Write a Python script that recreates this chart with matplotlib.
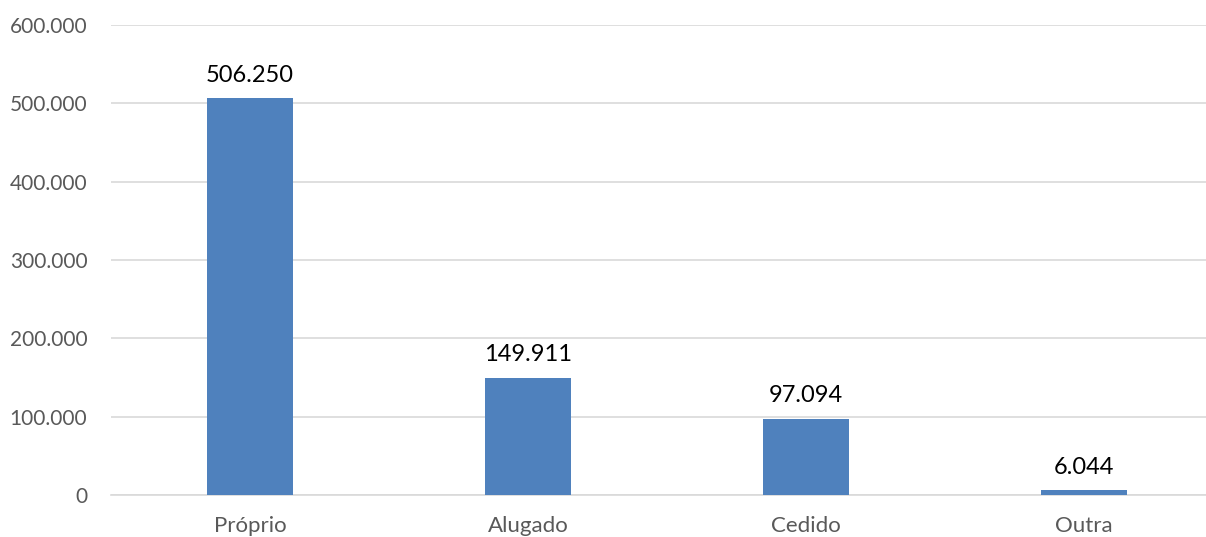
import matplotlib.pyplot as plt
from matplotlib.ticker import FuncFormatter

# data
categories = ["Próprio", "Alugado", "Cedido", "Outra"]
values = [506250, 149911, 97094, 6044]
value_labels = ["506.250", "149.911", "97.094", "6.044"]

W, H = 1206, 537
fig = plt.figure(figsize=(W / 100, H / 100), dpi=100)
# axes placed in pixel terms (right edge runs slightly past the figure, as in the source)
left, right, bottom, top = 111, 1223, 537 - 495, 537 - 25
ax = fig.add_axes([left / W, bottom / H, (right - left) / W, (top - bottom) / H])

plt.rcParams['font.family'] = ['Lato', 'DejaVu Sans']

x = range(len(categories))
ax.bar(x, values, width=0.31, color="#4F81BD", zorder=3)

for xi, v, lab in zip(x, values, value_labels):
    ax.annotate(lab, (xi, v), xytext=(0, 9), textcoords="offset points",
                ha="center", va="bottom", fontsize=17, color="black", family="Lato")

ax.set_xlim(-0.5, 3.5)
ax.set_ylim(0, 600000)
ax.set_yticks(range(0, 600001, 100000))
ax.yaxis.set_major_formatter(FuncFormatter(lambda v, p: f"{int(v):,}".replace(",", ".")))
ax.set_xticks(list(x))
ax.set_xticklabels(categories)

ax.grid(axis="y", color="#D9D9D9", linewidth=1.2, zorder=0)
for s in ["top", "right", "left"]:
    ax.spines[s].set_visible(False)
ax.spines["bottom"].set_color("#D9D9D9")
ax.spines["bottom"].set_linewidth(1.2)
ax.tick_params(axis="y", length=0, labelsize=15, labelcolor="#595959", pad=17)
ax.tick_params(axis="x", length=0, labelsize=16, labelcolor="#595959", pad=15)
for t in ax.get_xticklabels() + ax.get_yticklabels():
    t.set_family("Lato")

fig.savefig("out.png", dpi=100)
